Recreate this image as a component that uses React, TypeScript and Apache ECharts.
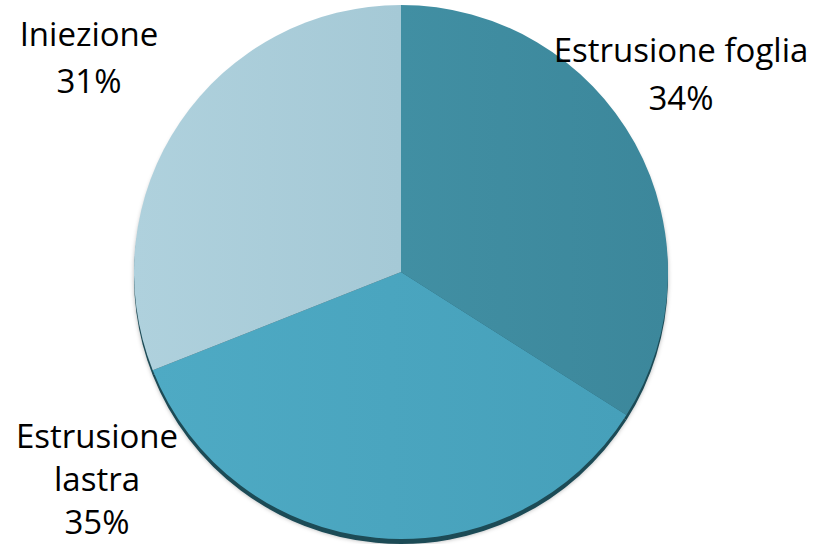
import React, { useEffect, useRef } from "react";
import * as echarts from "echarts";

const categories = ["Estrusione foglia", "Estrusione lastra", "Iniezione"];
const values = [34, 35, 31];
const colors = [
  ["#418fa3", "#3c879b"],
  ["#4eaac4", "#46a0ba"],
  ["#afd1dd", "#a5c9d6"],
];
const labelPos = [
  { x: 681, y: 73 },
  { x: 97, y: 478 },
  { x: 89, y: 57 },
];
const labelLineHeights = [48, 43, 47];

export default function App() {
  const ref = useRef<HTMLDivElement>(null);
  useEffect(() => {
    if (!ref.current) return;
    const chart = echarts.init(ref.current, null, { renderer: "svg" });
    const data = categories.map((name, i) => ({
      name,
      value: values[i],
      label: { lineHeight: labelLineHeights[i] },
      itemStyle: {
        color: new echarts.graphic.LinearGradient(0, 0, 1, 0, [
          { offset: 0, color: colors[i][0] },
          { offset: 1, color: colors[i][1] },
        ]),
      },
    }));
    chart.setOption({
      animation: false,
      series: [
        {
          type: "pie",
          silent: true,
          center: [401, 277],
          radius: 267,
          startAngle: 90,
          z: 1,
          label: { show: false },
          labelLine: { show: false },
          itemStyle: { color: "#1f4b56", shadowBlur: 4, shadowColor: "rgba(0,0,0,0.3)" },
          data: categories.map((name, i) => ({ name, value: values[i] })),
        },
        {
          type: "pie",
          center: [401, 272],
          radius: 267,
          startAngle: 90,
          z: 2,
          percentPrecision: 0,
          label: {
            show: true,
            position: "outside",
            color: "#000",
            fontFamily: "Open Sans",
            fontSize: 33,
            align: "center",
            overflow: "none",
            width: 400,
            formatter: (p: any) =>
              (p.name === "Estrusione lastra" ? "Estrusione\nlastra" : p.name) + "\n" + p.percent + "%",
          },
          labelLine: { show: false },
          labelLayout: (params: any) => {
            const pos = labelPos[params.dataIndex];
            return { x: pos.x, y: pos.y, align: "center", verticalAlign: "middle" };
          },
          data,
        },
      ],
    });
    return () => chart.dispose();
  }, []);
  return (
    <div
      ref={ref}
      style={{ position: "fixed", left: 0, top: 0, width: 820, height: 544, background: "#fff" }}
    />
  );
}
